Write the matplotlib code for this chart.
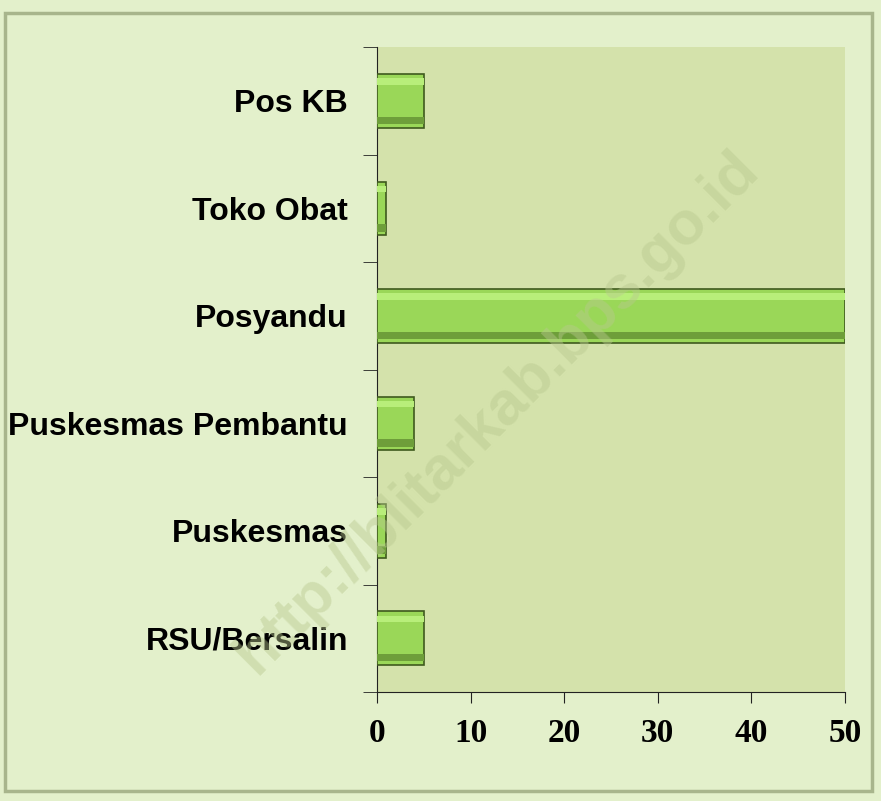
import matplotlib
matplotlib.use("Agg")
import matplotlib.pyplot as plt
from matplotlib.patches import Rectangle
import numpy as np

categories = ["RSU/Bersalin", "Puskesmas", "Puskesmas Pembantu", "Posyandu", "Toko Obat", "Pos KB"]
values = [5, 1, 4, 50, 1, 5]
xticks = [0, 10, 20, 30, 40, 50]

fig = plt.figure(figsize=(8.81, 8.01), dpi=100)
fig.patch.set_facecolor("#E3F0CB")

# outer frame
frame = Rectangle((0.006, 0.012), 0.984, 0.972, transform=fig.transFigure,
                  facecolor="none", edgecolor="#A8B58C", linewidth=2.5, zorder=-5)
fig.add_artist(frame)

ax = fig.add_axes([0.428, 0.136, 0.531, 0.805])
ax.set_facecolor("#D4E2AB")

y = np.arange(len(categories))
h = 0.5
ax.barh(y, values, height=h, color="#9AD758", edgecolor="#3F5A1E", linewidth=1.2, zorder=3)
# bevel highlights / shadows derived from the same data
ax.barh(y + h * 0.36, values, height=h * 0.12, color="#B8EE7A", linewidth=0, zorder=4)
ax.barh(y - h * 0.36, values, height=h * 0.14, color="#6E9E3A", linewidth=0, zorder=4)

ax.set_xlim(0, 50)
ax.set_ylim(-0.5, len(categories) - 0.5)

for s in ["top", "right"]:
    ax.spines[s].set_visible(False)
ax.spines["left"].set_color("#222222")
ax.spines["bottom"].set_color("#222222")

ax.set_yticks(y)
ax.set_yticklabels(categories, fontfamily="Liberation Sans", fontweight="bold", fontsize=23)
ax.set_yticks(np.arange(-0.5, len(categories) + 0.5, 1), minor=True)
ax.tick_params(axis="y", which="major", length=0, pad=21)
ax.tick_params(axis="y", which="minor", length=10, direction="out", color="#222222")

ax.set_xticks(xticks)
ax.set_xticklabels([str(v) for v in xticks], fontfamily="Liberation Serif", fontweight="bold", fontsize=24)
ax.tick_params(axis="x", length=8, direction="out", pad=11, color="#222222")

# watermark
fig.text(0.565, 0.485, "http://blitarkab.bps.go.id", rotation=45, ha="center", va="center",
         fontsize=44, fontweight="bold", fontfamily="Liberation Sans",
         color="#B9C98F", alpha=0.45, zorder=10)

fig.savefig("out.png", dpi=100, facecolor=fig.get_facecolor())
